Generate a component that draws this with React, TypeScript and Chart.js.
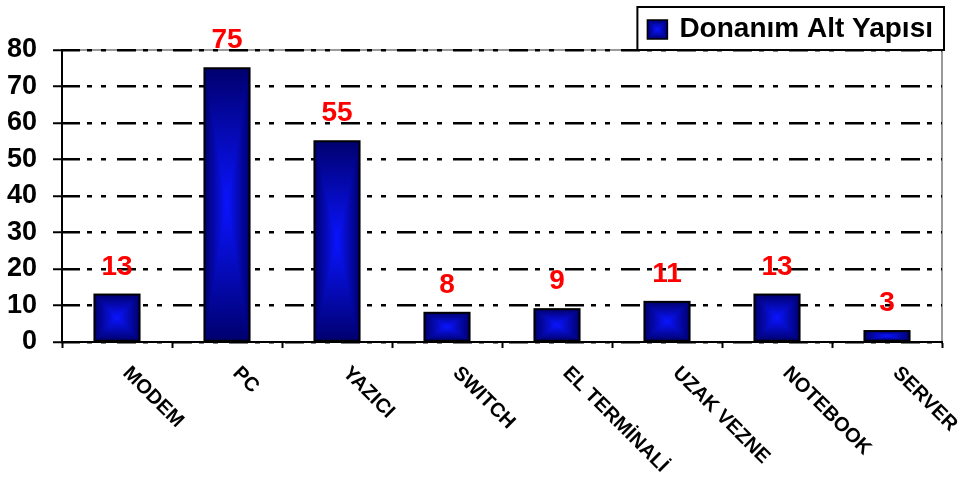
import React, { useEffect, useRef } from "react";
import { Chart, registerables } from "chart.js";

Chart.register(...registerables);

const categories: string[] = ["MODEM", "PC", "YAZICI", "SWITCH", "EL TERMİNALİ", "UZAK VEZNE", "NOTEBOOK", "SERVER"];
const values: number[] = [13, 75, 55, 8, 9, 11, 13, 3];
const seriesName = "Donanım Alt Yapısı";
const yMin = 0;
const yMax = 80;
const yStep = 10;

const FONT = 'Arial, "Liberation Sans", sans-serif';
const EDGE = "#00006e";
const CENTER = "#0a14ff";

function fillRectGradient(ctx: CanvasRenderingContext2D, x0: number, y0: number, x1: number, y1: number) {
  const cx = (x0 + x1) / 2;
  const cy = (y0 + y1) / 2;
  const tri = (pts: number[][], gx0: number, gy0: number, gx1: number, gy1: number) => {
    const g = ctx.createLinearGradient(gx0, gy0, gx1, gy1);
    g.addColorStop(0, EDGE);
    g.addColorStop(1, CENTER);
    ctx.fillStyle = g;
    ctx.beginPath();
    ctx.moveTo(pts[0][0], pts[0][1]);
    for (let i = 1; i < pts.length; i++) ctx.lineTo(pts[i][0], pts[i][1]);
    ctx.closePath();
    ctx.fill();
  };
  ctx.save();
  ctx.beginPath();
  ctx.rect(x0, y0, x1 - x0, y1 - y0);
  ctx.clip();
  const gm = ctx.createRadialGradient(cx, cy, 0, cx, cy, Math.max(x1 - x0, y1 - y0) / 2);
  gm.addColorStop(0, CENTER);
  gm.addColorStop(1, EDGE);
  ctx.fillStyle = gm;
  ctx.fillRect(x0, y0, x1 - x0, y1 - y0);
  tri([[x0, y0], [x1, y0], [cx, cy]], cx, y0, cx, cy);
  tri([[x0, y1], [x1, y1], [cx, cy]], cx, y1, cx, cy);
  tri([[x0, y0], [x0, y1], [cx, cy]], x0, cy, cx, cy);
  tri([[x1, y0], [x1, y1], [cx, cy]], x1, cy, cx, cy);
  ctx.restore();
}

const plotFramePlugin = {
  id: "plotFrame",
  beforeDraw(chart: any) {
    const { ctx, chartArea } = chart;
    ctx.save();
    ctx.strokeStyle = "#9a9a9a";
    ctx.lineWidth = 2;
    ctx.beginPath();
    ctx.moveTo(chartArea.left, chartArea.top);
    ctx.lineTo(chartArea.right, chartArea.top);
    ctx.lineTo(chartArea.right, chartArea.bottom);
    ctx.stroke();
    ctx.restore();
  },
};

const barDecorPlugin = {
  id: "barDecor",
  afterDatasetsDraw(chart: any) {
    const { ctx } = chart;
    const meta = chart.getDatasetMeta(0);
    const ds = chart.data.datasets[0];
    meta.data.forEach((bar: any, i: number) => {
      const { x, y, base, width } = bar.getProps(["x", "y", "base", "width"], true);
      const x0 = x - width / 2;
      const x1 = x + width / 2;
      fillRectGradient(ctx, x0, Math.min(y, base), x1, Math.max(y, base));
      ctx.save();
      ctx.strokeStyle = "#000";
      ctx.lineWidth = 2;
      ctx.strokeRect(x0, y, width, base - y);
      ctx.fillStyle = "#ff0000";
      ctx.font = `bold 28px ${FONT}`;
      ctx.textAlign = "center";
      ctx.textBaseline = "alphabetic";
      ctx.fillText(String(ds.data[i]), x, y - 20);
      ctx.restore();
    });
  },
};

const xLabelPlugin = {
  id: "xLabels",
  afterDraw(chart: any) {
    const { ctx } = chart;
    const xs = chart.scales.x;
    ctx.save();
    ctx.fillStyle = "#000";
    ctx.font = `bold 20px ${FONT}`;
    ctx.textAlign = "left";
    ctx.textBaseline = "top";
    (chart.data.labels as string[]).forEach((lab, i) => {
      const px = xs.getPixelForValue(i);
      ctx.save();
      ctx.translate(px + 16, xs.top + 21);
      ctx.rotate(Math.PI / 4);
      ctx.fillText(lab, 0, 0);
      ctx.restore();
    });
    ctx.restore();
  },
};

const legendPlugin = {
  id: "boxLegend",
  afterDraw(chart: any) {
    const { ctx } = chart;
    const label = chart.data.datasets[0].label as string;
    ctx.save();
    ctx.font = `bold 28px ${FONT}`;
    const tw = ctx.measureText(label).width;
    const right = 944;
    const top = 7;
    const h = 43;
    const w = tw + 53;
    const left = right - w;
    ctx.fillStyle = "#fff";
    ctx.fillRect(left, top, w, h);
    ctx.strokeStyle = "#000";
    ctx.lineWidth = 2;
    ctx.strokeRect(left, top, w, h);
    const bx = left + 10;
    const by = top + 13;
    fillRectGradient(ctx, bx, by, bx + 20, by + 19);
    ctx.lineWidth = 1.5;
    ctx.strokeRect(bx, by, 20, 19);
    ctx.fillStyle = "#000";
    ctx.textAlign = "left";
    ctx.textBaseline = "middle";
    ctx.fillText(label, bx + 32, top + h / 2 + 1);
    ctx.restore();
  },
};

export default function App() {
  const ref = useRef<HTMLCanvasElement | null>(null);
  useEffect(() => {
    if (!ref.current) return;
    const chart = new Chart(ref.current, {
      type: "bar",
      data: {
        labels: categories,
        datasets: [
          {
            label: seriesName,
            data: values,
            backgroundColor: "#0000cc",
            borderColor: "#000",
            borderWidth: 2,
            categoryPercentage: 1,
            barPercentage: 0.41,
          },
        ],
      },
      options: {
        animation: false,
        responsive: false,
        devicePixelRatio: 1,
        layout: { padding: { top: 50, right: 17, left: 0, bottom: 0 } },
        plugins: {
          legend: { display: false },
          tooltip: { enabled: false },
        },
        scales: {
          x: {
            grid: {
              display: true,
              drawOnChartArea: false,
              drawTicks: true,
              tickLength: 6,
              tickColor: "#000",
              tickWidth: 2,
              offset: true,
            },
            border: { display: true, color: "#000", width: 2 },
            ticks: { display: false },
            afterFit: (s: any) => {
              s.height = 135;
            },
          },
          y: {
            min: yMin,
            max: yMax,
            ticks: {
              stepSize: yStep,
              color: "#000",
              font: { family: FONT, size: 27, weight: "bold" },
              padding: 16,
            },
            grid: {
              color: "#000",
              lineWidth: 2.5,
              tickLength: 9,
              tickColor: "#000",
              tickWidth: 2,
              tickBorderDash: [],
            },
            border: { display: true, color: "#000", width: 2, dash: [19, 7, 5, 9, 5, 11], dashOffset: 2 },
            afterFit: (s: any) => {
              s.width = 62;
            },
          },
        },
      },
      plugins: [plotFramePlugin, barDecorPlugin, xLabelPlugin, legendPlugin],
    } as any);
    return () => chart.destroy();
  }, []);
  return (
    <div style={{ position: "fixed", left: 0, top: 0, width: 959, height: 477, background: "#fff" }}>
      <canvas ref={ref} width={959} height={477} style={{ display: "block" }} />
    </div>
  );
}
